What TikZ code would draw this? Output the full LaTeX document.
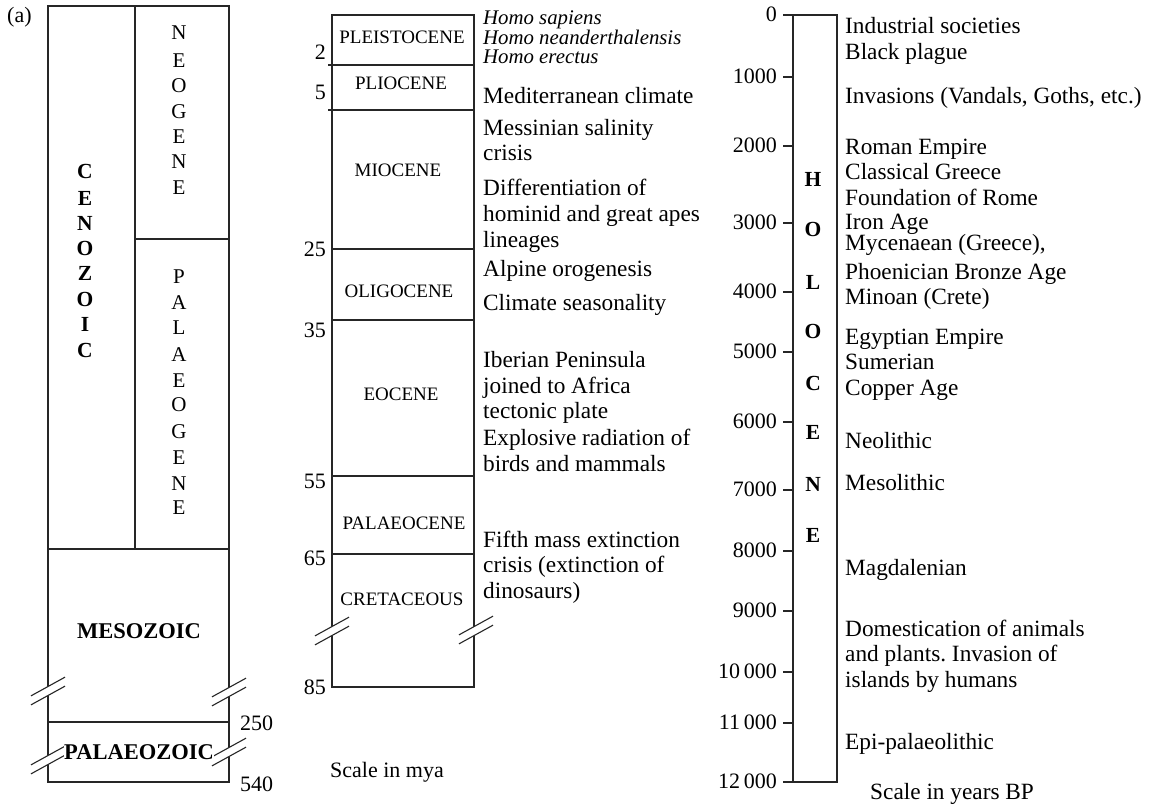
\documentclass[tikz,border=0pt]{standalone}
\usepackage{fontspec}
\setmainfont{Liberation Serif}
\frenchspacing
\tikzset{
 ln/.style={line width=1.1pt, draw=black!85},
 tx/.style={anchor=west, inner sep=0pt, text height=13.5pt, text depth=0pt, font=\fontsize{23.3}{24}\selectfont},
 itx/.style={tx, font=\fontsize{20.8}{24}\selectfont\itshape},
 sc/.style={tx, font=\fontsize{22}{24}\selectfont},
 num/.style={anchor=east, inner sep=0pt, text height=13.5pt, text depth=0pt, font=\fontsize{22}{24}\selectfont},
 ep/.style={inner sep=0pt, text height=12.5pt, text depth=0pt, font=\fontsize{19}{20}\selectfont},
 blt/.style={inner sep=0pt, text height=13.5pt, text depth=0pt, font=\fontsize{21.5}{24}\selectfont\bfseries},
 ltr/.style={inner sep=0pt, text height=13.5pt, text depth=0pt, font=\fontsize{21}{24}\selectfont},
}
\newcommand\brkm[2]{%
 \begin{scope}[shift={(#1,#2)}]
  \fill[white] (-3,-4.5+1.65) -- (3,-4.5-1.65) -- (3,4.5-1.65) -- (-3,4.5+1.65) -- cycle;
  \draw[ln] (-17,-4.5+9.35) -- (17,-4.5-9.35);
  \draw[ln] (-17,4.5+9.35) -- (17,4.5-9.35);
 \end{scope}}
\begin{document}
\begin{tikzpicture}[x=1pt,y=-1pt]
\useasboundingbox (0,0) rectangle (1155,809);
% ---------- left column
\node[sc] (lbla) at (7,16) {(a)};
\draw[ln] (48,6) rectangle (229,782);
\draw[ln] (135,6) -- (135,549);
\draw[ln] (135,239) -- (229,239);
\draw[ln] (48,549) -- (229,549);
\draw[ln] (48,722) -- (229,722);
\foreach \l/\y [count=\i] in {C/172,E/199,N/224,O/249,Z/274,O/300,I/325,C/351}
  \node[blt] (ceno\i) at (85,\y) {\l};
\foreach \l/\y [count=\i] in {N/33,E/61,O/86,G/112,E/137,N/162,E/188}
  \node[ltr] (neo\i) at (179,\y) {\l};
\foreach \l/\y [count=\i] in {P/277,A/303,L/328,A/355,E/381,O/405,G/432,E/458,N/484,E/508}
  \node[ltr] (pal\i) at (179,\y) {\l};
\node[blt,font=\fontsize{22.5}{24}\selectfont\bfseries] (meso) at (139,632) {MESOZOIC};
\brkm{48}{691}
\brkm{229}{692}
\brkm{48}{760}
\brkm{229}{752}
\node[blt,font=\fontsize{22.5}{24}\selectfont\bfseries,fill=white,inner xsep=0.5pt] (palz) at (139,753) {PALAEOZOIC};
\node[sc] (n250) at (240,724) {250};
\node[sc] (n540) at (240,785) {540};
% ---------- middle column
\draw[ln] (332,15) rectangle (474,687);
\draw[ln] (328,65) -- (474,65);
\draw[ln] (328,110) -- (474,110);
\draw[ln] (332,249) -- (474,249);
\draw[ln] (332,320) -- (474,320);
\draw[ln] (332,476) -- (474,476);
\draw[ln] (332,554) -- (474,554);
\brkm{332}{631}
\brkm{476}{630}
\node[num] (m2) at (326,53) {2};
\node[num] (m5) at (326,93) {5};
\node[num] (m25) at (326,250) {25};
\node[num] (m35) at (326,331) {35};
\node[num] (m55) at (326,482) {55};
\node[num] (m65) at (326,559) {65};
\node[num] (m85) at (326,688) {85};
\node[ep] (pleis) at (402,37) {PLEISTOCENE};
\node[ep] (plio) at (401,83) {PLIOCENE};
\node[ep] (mio) at (398,170) {MIOCENE};
\node[ep] (oligo) at (399,291) {OLIGOCENE};
\node[ep] (eoc) at (401,394) {EOCENE};
\node[ep] (palc) at (404,523) {PALAEOCENE};
\node[ep] (cret) at (402,599) {CRETACEOUS};
\node[itx] (hs) at (483,18) {Homo sapiens};
\node[itx] (hn) at (483,37.5) {Homo neanderthalensis};
\node[itx] (he) at (483,57) {Homo erectus};
\node[tx] (t1) at (483,97) {Mediterranean climate};
\node[tx] (t2) at (483,129) {Messinian salinity};
\node[tx] (t3) at (483,154) {crisis};
\node[tx] (t4) at (483,189) {Differentiation of};
\node[tx] (t5) at (483,215) {hominid and great apes};
\node[tx] (t6) at (483,241) {lineages};
\node[tx] (t7) at (483,270) {Alpine orogenesis};
\node[tx] (t8) at (483,304) {Climate seasonality};
\node[tx] (t9) at (483,361) {Iberian Peninsula};
\node[tx] (t10) at (483,387) {joined to Africa};
\node[tx] (t11) at (483,412) {tectonic plate};
\node[tx] (t12) at (483,439) {Explosive radiation of};
\node[tx] (t13) at (483,465) {birds and mammals};
\node[tx] (t14) at (483,541) {Fifth mass extinction};
\node[tx] (t15) at (483,566) {crisis (extinction of};
\node[tx] (t16) at (483,592) {dinosaurs)};
\node[sc] (scm) at (330,771) {Scale in mya};
% ---------- right column
\draw[ln] (793,15) rectangle (837,782);
\foreach \v/\y [count=\i] in {0/15,1000/77,2000/146,3000/223,4000/292,5000/352,6000/422,7000/490,8000/551,9000/611,10\,000/672,11\,000/723,12\,000/782}{
  \draw[ln] (783,\y) -- (793,\y);
  \node[num] (r\i) at (777,\y) {\v};
}
\foreach \l/\y [count=\i] in {H/180,O/230,L/283,O/332,C/384,E/433,N/485,E/536}
  \node[blt] (holo\i) at (813,\y) {\l};
\node[tx] (h1) at (845,27) {Industrial societies};
\node[tx] (h2) at (845,53) {Black plague};
\node[tx] (h3) at (845,97) {Invasions (Vandals, Goths, etc.)};
\node[tx] (h4) at (845,148) {Roman Empire};
\node[tx] (h5) at (845,173) {Classical Greece};
\node[tx] (h6) at (845,199) {Foundation of Rome};
\node[tx] (h7) at (845,223) {Iron Age};
\node[tx] (h8) at (845,244) {Mycenaean (Greece),};
\node[tx] (h9) at (845,273) {Phoenician Bronze Age};
\node[tx] (h10) at (845,298) {Minoan (Crete)};
\node[tx] (h11) at (845,338) {Egyptian Empire};
\node[tx] (h12) at (845,363) {Sumerian};
\node[tx] (h13) at (845,389) {Copper Age};
\node[tx] (h14) at (845,442) {Neolithic};
\node[tx] (h15) at (845,484) {Mesolithic};
\node[tx] (h16) at (845,569) {Magdalenian};
\node[tx] (h17) at (845,630) {Domestication of animals};
\node[tx] (h18) at (845,655) {and plants. Invasion of};
\node[tx] (h19) at (845,681) {islands by humans};
\node[tx] (h20) at (845,743) {Epi-palaeolithic};
\node[tx] (scy) at (870,793) {Scale in years BP};
\end{tikzpicture}
\end{document}
